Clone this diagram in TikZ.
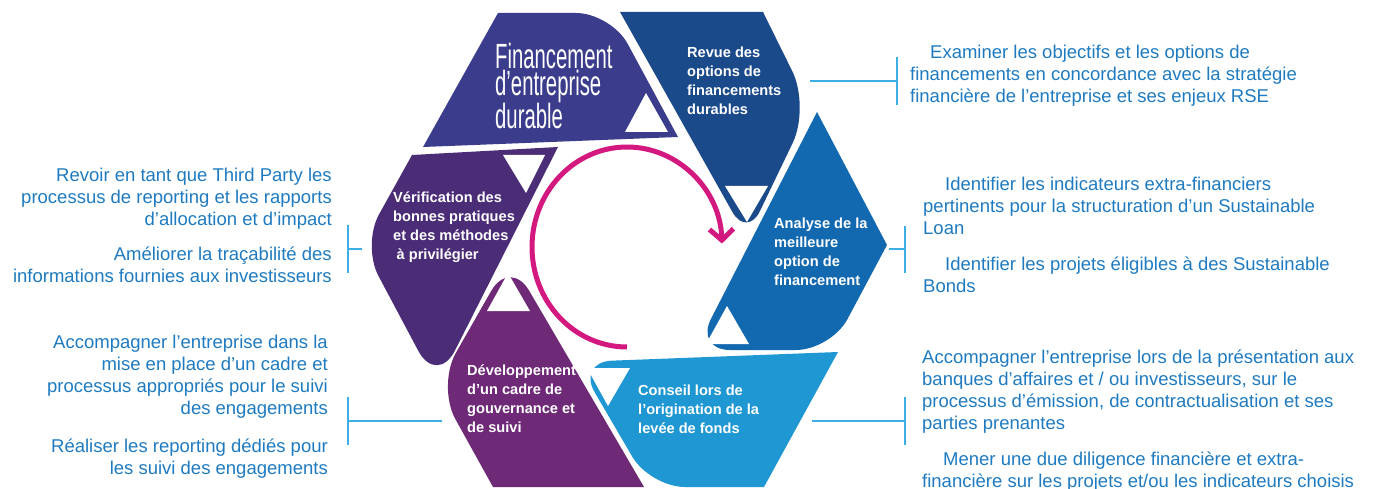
\documentclass[tikz,border=0pt]{standalone}
\usepackage{fontspec}
\setmainfont{Liberation Sans}
\newfontfamily\titlefont[FakeStretch=0.58]{Liberation Sans}
\usetikzlibrary{arrows.meta}

\definecolor{finindigo}{HTML}{3B3D8C}
\definecolor{revueblue}{HTML}{1B4A8A}
\definecolor{verifpurple}{HTML}{4B2C76}
\definecolor{analyseblue}{HTML}{1369B0}
\definecolor{conseilcyan}{HTML}{1E97D2}
\definecolor{devplum}{HTML}{6E2977}
\definecolor{cyclemagenta}{HTML}{D3187F}
\definecolor{sidetextcol}{HTML}{1F7BC1}
\definecolor{bracketcol}{HTML}{3DAFE4}

\tikzset{
  sidetext/.style={inner sep=0pt, text=sidetextcol, font=\fontsize{18.5}{22}\selectfont},
  piecetext/.style={inner sep=0pt, text=white, anchor=north west, align=left,
    font=\bfseries\fontsize{14.6}{19}\selectfont},
  bracket/.style={draw=bracketcol, line width=1.5pt},
  notch/.style={fill=white},
}

\begin{document}
\begin{tikzpicture}[x=1pt,y=-1pt]
\fill[white] (0,0) rectangle (1374,489);
\useasboundingbox (0,0) rectangle (1374,489);

% financement d'entreprise durable
\fill[finindigo] (423,147) -- (498,13) [rounded corners=35pt] -- (611,13) [sharp corners] -- (678,137) -- cycle;
\fill[notch] (625,132) -- (668,132) -- (646,93) -- cycle;
\node[inner sep=0pt, text=white, anchor=north west, align=left,
  font=\titlefont\fontsize{35}{26.5}\selectfont] (titre) at (495,43.3)
  {Financement\\d’entreprise\\durable};

% revue des options
\fill[revueblue] (620,12) -- (763,12) [rounded corners=40pt] -- (810,107) [rounded corners=30pt] -- (747,238) [sharp corners] -- cycle;
\fill[notch] (725,186) -- (768,186) -- (747,222) -- cycle;
\node[piecetext] (revue) at (687,46.5) {Revue des\\options de\\financements\\durables};

% verification
\fill[verifpurple] (558,147) -- (412,155) [rounded corners=35pt] -- (362,245) [rounded corners=40pt] -- (437,386) [sharp corners] -- cycle;
\fill[notch] (503,155) -- (545,155) -- (526,193) -- cycle;
\node[piecetext] (verification) at (393,191.5) {Vérification des\\bonnes pratiques\\et des méthodes\\\hspace*{3.5pt}à privilégier};

% analyse
\fill[analyseblue] (817,112) -- (887,245) [rounded corners=35pt] -- (831,350) -- (695,350) [sharp corners] -- cycle;
\fill[notch] (706,344) -- (749,344) -- (727,306) -- cycle;
\node[piecetext] (analyse) at (774,217.3) {Analyse de la\\meilleure\\option de\\financement};

% developpement
\fill[devplum] (644,487) -- (493,487) [rounded corners=38pt] -- (437,386) -- (510,258) [sharp corners] -- cycle;
\fill[notch] (487,311) -- (530,311) -- (508,273) -- cycle;
\node[piecetext] (developpement) at (467,365) {Développement\\d’un cadre de\\gouvernance et\\de suivi};

% conseil (over the end of the text above)
\fill[conseilcyan] (838,352) -- (764,487) [rounded corners=35pt] -- (650,487) -- (577,362) [sharp corners] -- cycle;
\fill[notch] (587,368) -- (630,368) -- (608,406) -- cycle;
\node[piecetext] (conseil) at (638,385) {Conseil lors de\\l’origination de la\\levée de fonds};

% cycle arrow
\draw[cyclemagenta, line width=5pt, -{Straight Barb[length=11pt,width=24pt]}]
  (627,347) arc[start angle=90, end angle=358, x radius=95, y radius=100];

% right side
\node[sidetext, anchor=north west, align=left] (examiner) at (910,45)
  {\hspace*{20pt}Examiner les objectifs et les options de\\financements en concordance avec la stratégie\\financière de l’entreprise et ses enjeux RSE};
\node[sidetext, anchor=north west, align=left] (indicateurs) at (923,176.7)
  {\hspace*{22pt}Identifier les indicateurs extra-financiers\\pertinents pour la structuration d’un Sustainable\\Loan};
\node[sidetext, anchor=north west, align=left] (projets) at (923,256.7)
  {\hspace*{22pt}Identifier les projets éligibles à des Sustainable\\Bonds};
\node[sidetext, anchor=north west, align=left] (presentation) at (922,350)
  {Accompagner l’entreprise lors de la présentation aux\\banques d’affaires et / ou investisseurs, sur le\\processus d’émission, de contractualisation et ses\\parties prenantes};
\node[sidetext, anchor=north west, align=left] (diligence) at (922,451.7)
  {\hspace*{21pt}Mener une due diligence financière et extra-\\financière sur les projets et/ou les indicateurs choisis};

% left side
\node[sidetext, anchor=north east, align=right] (revoir) at (332,168.3)
  {Revoir en tant que Third Party les\\processus de reporting et les rapports\\d’allocation et d’impact};
\node[sidetext, anchor=north east, align=right] (ameliorer) at (332,246.7)
  {Améliorer la traçabilité des\\informations fournies aux investisseurs};
\node[sidetext, anchor=north east, align=right] (cadre) at (328,335)
  {Accompagner l’entreprise dans la\\mise en place d’un cadre et\\processus appropriés pour le suivi\\des engagements};
\node[sidetext, anchor=north east, align=right] (reporting) at (328,438.3)
  {Réaliser les reporting dédiés pour\\les suivi des engagements};

% brackets
\coordinate (revuepin) at (810,81);
\coordinate (revuebar) at (897,81);
\coordinate (revuetop) at (897,57);
\coordinate (revuebot) at (897,105);
\draw[bracket] (revuepin) -- (revuebar);
\draw[bracket] (revuetop) -- (revuebot);

\coordinate (analysepin) at (889,249);
\coordinate (analysebar) at (905,249);
\coordinate (analysetop) at (905,226);
\coordinate (analysebot) at (905,273);
\draw[bracket] (analysepin) -- (analysebar);
\draw[bracket] (analysetop) -- (analysebot);

\coordinate (conseilpin) at (812,421);
\coordinate (conseilbar) at (905,421);
\coordinate (conseiltop) at (905,397);
\coordinate (conseilbot) at (905,445);
\draw[bracket] (conseilpin) -- (conseilbar);
\draw[bracket] (conseiltop) -- (conseilbot);

\coordinate (verifpin) at (362,249);
\coordinate (verifbar) at (348,249);
\coordinate (veriftop) at (348,225);
\coordinate (verifbot) at (348,273);
\draw[bracket] (verifpin) -- (verifbar);
\draw[bracket] (veriftop) -- (verifbot);

\coordinate (devpin) at (442,421);
\coordinate (devbar) at (348,421);
\coordinate (devtop) at (348,397);
\coordinate (devbot) at (348,445);
\draw[bracket] (devpin) -- (devbar);
\draw[bracket] (devtop) -- (devbot);
\end{tikzpicture}
\end{document}
